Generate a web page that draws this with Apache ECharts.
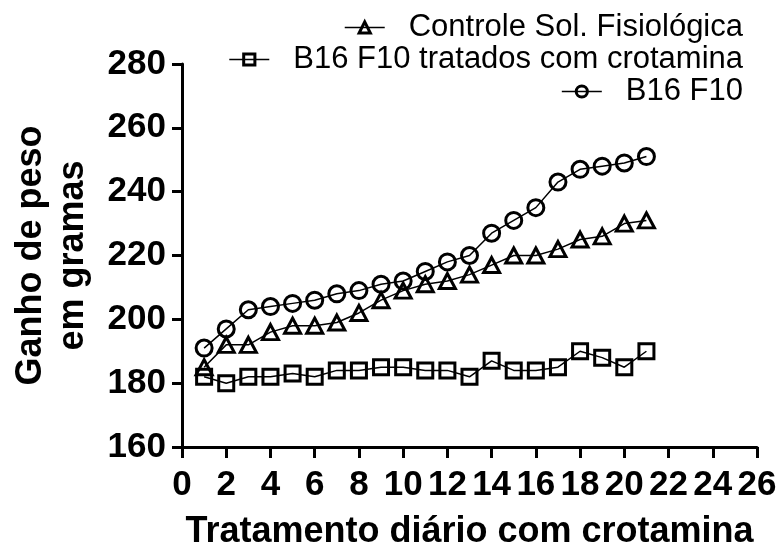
<!DOCTYPE html>
<html>
<head>
<meta charset="utf-8">
<script src="https://cdn.jsdelivr.net/npm/echarts@6/dist/echarts.min.js"></script>
<style>
  html, body { margin: 0; padding: 0; background: #fff; }
  #chart { width: 781px; height: 547px; }
</style>
</head>
<body>
<div id="chart"></div>
<script>
// dias de tratamento
const days = [1, 2, 3, 4, 5, 6, 7, 8, 9, 10, 11, 12, 13, 14, 15, 16, 17, 18, 19, 20, 21];

// ganho de peso (g)
const controle = [185, 192, 192, 196, 198, 198, 199, 202, 206, 209, 211, 212, 214, 217, 220, 220, 222, 225, 226, 230, 231];
const tratados = [182, 180, 182, 182, 183, 182, 184, 184, 185, 185, 184, 184, 182, 187, 184, 184, 185, 190, 188, 185, 190];
const b16 = [191, 197, 203, 204, 205, 206, 208, 209, 211, 212, 215, 218, 220, 227, 231, 235, 243, 247, 248, 249, 251];

const seriesNames = ['Controle Sol. Fisiológica', 'B16 F10 tratados com crotamina', 'B16 F10'];

const font = "'Liberation Sans', Arial, sans-serif";

function pairs(values) {
    return days.map((d, i) => [d, values[i]]);
}

const chart = echarts.init(document.getElementById('chart'));

function makeSeries(name, values, symbol, size) {
    return {
        name: name, type: 'line', data: pairs(values),
        symbol: symbol, symbolSize: size, showAllSymbol: true,
        lineStyle: { color: '#000', width: 1.5 },
        itemStyle: { color: 'rgba(0,0,0,0)', borderColor: '#000', borderWidth: 3 },
        emphasis: { disabled: true },
        z: 3
    };
}

function makeLegend(name, top) {
    return {
        data: [name], right: 38, top: top, padding: 0,
        itemWidth: 40, itemHeight: 14,
        selectedMode: false,
        itemStyle: { borderWidth: 3, borderColor: '#000', color: 'rgba(0,0,0,0)' },
        lineStyle: { width: 1.5, color: '#000' },
        textStyle: { fontFamily: font, fontSize: 31, color: '#000', padding: [0, 0, 0, 19] }
    };
}

const option = {
    animation: false,
    backgroundColor: '#fff',
    legend: [
        makeLegend(seriesNames[0], 12),
        makeLegend(seriesNames[1], 44),
        makeLegend(seriesNames[2], 76)
    ],
    grid: { left: 182, right: 24, top: 64, bottom: 100, outerBoundsMode: 'none' },
    xAxis: {
        type: 'value', min: 0, max: 26, interval: 2,
        name: 'Tratamento diário com crotamina',
        nameLocation: 'middle', nameGap: 67,
        nameTextStyle: { fontFamily: font, fontSize: 36, fontWeight: 'bold', color: '#000' },
        axisLine: { lineStyle: { color: '#000', width: 3 } },
        axisTick: { show: true, length: 11, lineStyle: { color: '#000', width: 3 } },
        axisLabel: { fontFamily: font, fontSize: 35, fontWeight: 'bold', color: '#000', margin: 21 },
        splitLine: { show: false }
    },
    yAxis: {
        type: 'value', min: 160, max: 280, interval: 20,
        name: 'Ganho de peso\nem gramas',
        nameLocation: 'middle', nameGap: 88, nameRotate: 90,
        nameTextStyle: { fontFamily: font, fontSize: 36, fontWeight: 'bold', color: '#000', lineHeight: 42, align: 'center' },
        axisLine: { show: true, lineStyle: { color: '#000', width: 3 } },
        axisTick: { show: true, length: 10, lineStyle: { color: '#000', width: 3 } },
        axisLabel: { fontFamily: font, fontSize: 35, fontWeight: 'bold', color: '#000', margin: 16 },
        splitLine: { show: false }
    },
    series: [
        makeSeries(seriesNames[0], controle, 'triangle', [16, 15]),
        makeSeries(seriesNames[1], tratados, 'rect', 15),
        makeSeries(seriesNames[2], b16, 'circle', 16)
    ]
};

chart.setOption(option);
</script>
</body>
</html>
